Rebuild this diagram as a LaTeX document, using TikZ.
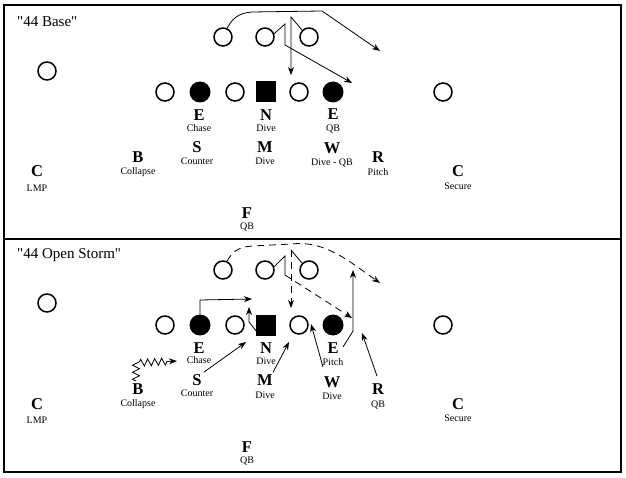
\documentclass[tikz,border=0pt]{standalone}
\usepackage{fontspec}
\setmainfont{Liberation Serif}
\newfontfamily\plainserif{Liberation Serif}
\usetikzlibrary{arrows.meta,decorations.pathmorphing}
\newcommand\plab[6]{%
  \node[big] (#1) at (#2,#3) {#4};
  \node[small] (#1t) at (#2,#6) {#5};}
\begin{document}
\begin{tikzpicture}[x=1pt,y=-1pt,
  open/.style={circle,draw,line width=1.5pt,minimum size=18pt,inner sep=0pt},
  full/.style={circle,fill,minimum size=21pt,inner sep=0pt},
  sq/.style={rectangle,fill,minimum width=20pt,minimum height=21pt,inner sep=0pt},
  big/.style={font=\fontsize{16.5}{20}\selectfont\bfseries,inner sep=0pt},
  small/.style={font=\fontsize{10}{12}\selectfont,inner sep=0pt},
  ttl/.style={font=\plainserif\fontsize{15}{18}\selectfont,inner sep=0pt,anchor=west},
  route/.style={line width=0.8pt},
  arr/.style={route,-{Stealth[length=8pt,width=6pt]}},
  dsh/.style={dash pattern=on 7pt off 5pt}]
\useasboundingbox (0,0) rectangle (626,478);
\draw[line width=1.2pt] (4,5) rectangle (621,239);
\draw[line width=1.2pt] (4,239) rectangle (621,472);

% ---------------- top: 44 Base ----------------
\node[ttl] (title1) at (17,22) {"44 Base"};
\node[open] (lc1) at (47,71) {};
\node[open] (t1a) at (223,37) {};
\node[open] (t1b) at (265,37) {};
\node[open] (t1c) at (309,37) {};
\node[open] (l1a) at (165,92) {};
\node[full] (l1b) at (200,92) {};
\node[open] (l1c) at (235,92) {};
\node[sq]   (l1d) at (266,92) {};
\node[open] (l1e) at (299,92) {};
\node[full] (l1f) at (333,92) {};
\node[open] (rc1) at (443,92) {};

\plab{E1}{199}{115}{E}{Chase}{128}
\plab{N1}{266}{115}{N}{Dive}{128}
\plab{Er1}{333}{114.5}{E}{QB}{129}
\plab{S1}{197}{147}{S}{Counter}{161}
\plab{M1}{265}{147}{M}{Dive}{161}
\plab{W1}{332}{148}{W}{Dive - QB}{163}
\plab{R1}{378}{157}{R}{Pitch}{172}
\plab{Cr1}{458}{171}{C}{Secure}{186}
\plab{B1}{138}{157}{B}{Collapse}{172}
\plab{Cl1}{37}{171}{C}{LMP}{188}
\plab{F1}{247}{213}{F}{QB}{227}

\coordinate (a1) at (380,51);
\coordinate (b1) at (352,83);
\coordinate (c1) at (291,75);
\draw[arr] (t1a.65) .. controls (232,19) and (238,13) .. (252,12) -- (322,11) -- (a1);
\draw[arr] (t1b.20) -- (285,24) -- (285,45) -- (b1);
\draw[arr] (t1c.135) -- (291,17) -- (c1);

% ---------------- bottom: 44 Open Storm ----------------
\node[ttl] (title2) at (17,255) {"44 Open Storm"};
\node[open] (lc2) at (47,303) {};
\node[open] (t2a) at (223,270) {};
\node[open] (t2b) at (265,270) {};
\node[open] (t2c) at (309,270) {};
\node[open] (l2a) at (165,325) {};
\node[full] (l2b) at (200,325) {};
\node[open] (l2c) at (235,325) {};
\node[sq]   (l2d) at (266,325) {};
\node[open] (l2e) at (299,325) {};
\node[full] (l2f) at (333,325) {};
\node[open] (rc2) at (443,325) {};

\plab{E2}{199}{348}{E}{Chase}{360}
\plab{N2}{266}{348}{N}{Dive}{361}
\plab{Er2}{333}{348}{E}{Pitch}{362}
\plab{S2}{197}{380}{S}{Counter}{393}
\plab{M2}{265}{380}{M}{Dive}{395}
\plab{W2}{332}{382}{W}{Dive}{396}
\plab{R2}{378}{389}{R}{QB}{405}
\plab{Cr2}{458}{404}{C}{Secure}{418}
\plab{B2}{138}{389}{B}{Collapse}{404}
\plab{Cl2}{37}{404}{C}{LMP}{420}
\plab{F2}{247}{447}{F}{QB}{461}

\coordinate (a2) at (380,283);
\coordinate (b2) at (352,318);
\coordinate (c2) at (291,308);
\coordinate (d2) at (252,299);
\coordinate (n2s) at (257,332);
\coordinate (n2) at (249,307);
\coordinate (s2) at (246,342);
\coordinate (m2) at (289,342);
\coordinate (w2s) at (323,367);
\coordinate (w2) at (311,324);
\coordinate (e2s) at (343,347);
\coordinate (e2) at (353,270);
\coordinate (r2s) at (377,376);
\coordinate (r2) at (362,333);
\coordinate (z2s) at (136,381);
\coordinate (z2) at (177,361);

\draw[arr,dsh] (t2a.65) .. controls (232,252) and (238,247) .. (252,246) -- (292,244)
   .. controls (325,240) and (350,262) .. (a2);
\draw[route] (t2b.20) -- (285,256) -- (285,275);
\draw[arr,dsh] (285,275) -- (b2);
\draw[route] (t2c.135) -- (291,250);
\draw[arr,dsh] (291,250) -- (c2);
\draw[arr] (l2b.north) -- (200,300) -- (d2);
\draw[arr] (n2s) -- (249,322) -- (n2);
\draw[arr] (S2.north east) ++(2,-2) -- (s2);
\draw[arr] (M2.north east) ++(0,-2) -- (m2);
\draw[arr] (w2s) -- (w2);
\draw[arr] (e2s) -- (353,331) -- (e2);
\draw[arr] (r2s) -- (r2);
\draw[arr,decorate,decoration={zigzag,segment length=7pt,amplitude=3.5pt,post=lineto,post length=9pt}]
   (z2s) -- (136,363) -- (z2);
\end{tikzpicture}
\end{document}
